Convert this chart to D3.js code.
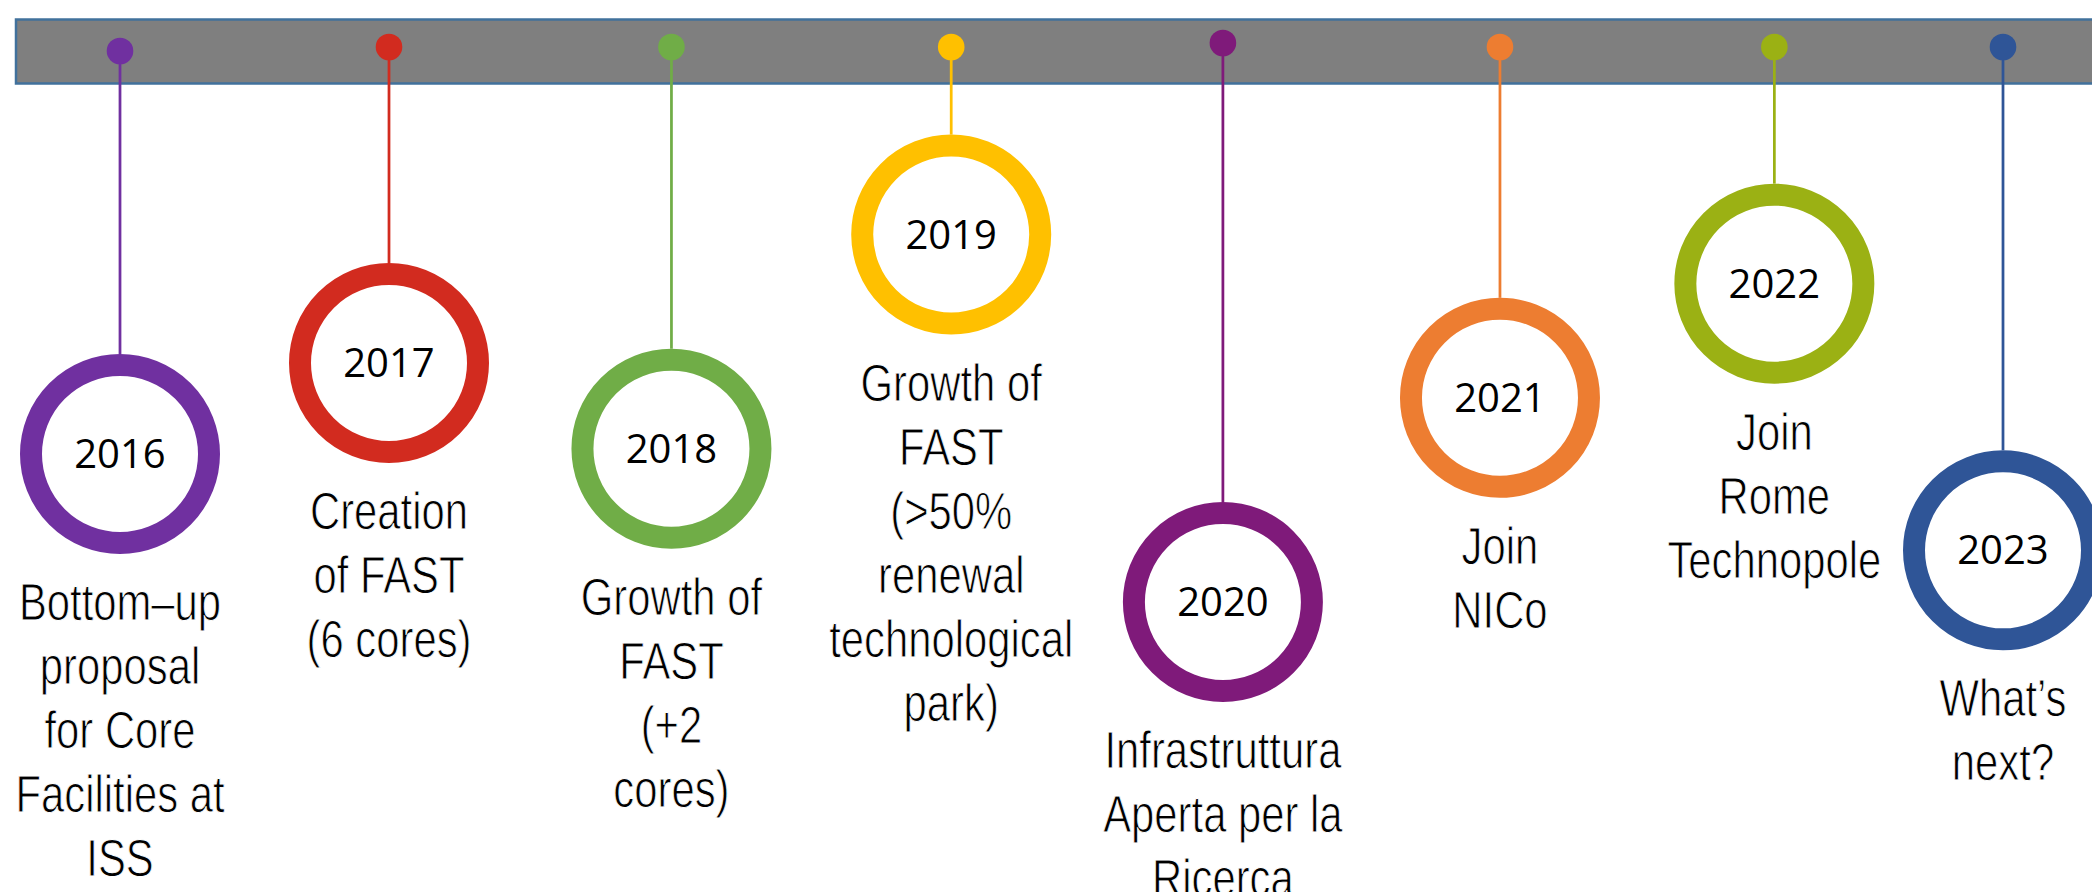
<!DOCTYPE html>
<html>
<head>
<meta charset="utf-8">
<script src="https://cdn.jsdelivr.net/npm/d3@7"></script>
<style>
  html, body { margin: 0; padding: 0; background: #ffffff; }
  svg { display: block; }
</style>
</head>
<body>
<svg id="chart" width="2092" height="892"></svg>
<script>
// ---- data ----
const years = ["2016", "2017", "2018", "2019", "2020", "2021", "2022", "2023"];
// position of each milestone along the timeline (in year-slot units)
const slots = [0, 1.0, 2.05, 3.09, 4.10, 5.13, 6.15, 7.0];
// how far each milestone hangs below the top (0-100 units of page height)
const depths = [50.9, 40.7, 50.3, 26.3, 67.5, 44.6, 31.8, 61.7];
// pin heights on the bar (same units)
const pinDepths = [5.72, 5.27, 5.27, 5.27, 4.82, 5.27, 5.27, 5.27];
const colors = ["#7030A0", "#D22B1F", "#70AD47", "#FFC000", "#7F1A7A", "#ED7D31", "#9BB114", "#2F5597"];
const descriptions = [
  ["Bottom–up", "proposal", "for Core", "Facilities at", "ISS"],
  ["Creation", "of FAST", "(6 cores)"],
  ["Growth of", "FAST", "(+2", "cores)"],
  ["Growth of", "FAST", "(>50%", "renewal", "technological", "park)"],
  ["Infrastruttura", "Aperta per la", "Ricerca"],
  ["Join", "NICo"],
  ["Join", "Rome", "Technopole"],
  ["What’s", "next?"]
];

// ---- layout ----
const W = 2092, H = 892;
const svg = d3.select("#chart");
const x = d3.scaleLinear().domain([0, 7]).range([120, 2003]);
const y = d3.scaleLinear().domain([0, 100]).range([0, H]);

const ringR = 89, ringW = 22, pinR = 13.3;
const lineH = 64, labelGap = 166;

const items = years.map((yr, i) => ({
  year: yr, cx: x(slots[i]), cy: y(depths[i]), py: y(pinDepths[i]),
  color: colors[i], lines: descriptions[i]
}));

// timeline bar
svg.append("rect")
  .attr("x", 16).attr("y", 19.5)
  .attr("width", W + 20).attr("height", 64)
  .attr("fill", "#7F7F7F")
  .attr("stroke", "#41719C").attr("stroke-width", 2.5);

const g = svg.selectAll("g.item").data(items).join("g").attr("class", "item");

g.append("line")
  .attr("x1", d => d.cx).attr("x2", d => d.cx)
  .attr("y1", d => d.py).attr("y2", d => d.cy - ringR - ringW / 2)
  .attr("stroke", d => d.color).attr("stroke-width", 2.75);

g.append("circle")
  .attr("cx", d => d.cx).attr("cy", d => d.py).attr("r", pinR)
  .attr("fill", d => d.color);

g.append("circle")
  .attr("cx", d => d.cx).attr("cy", d => d.cy).attr("r", ringR)
  .attr("fill", "#ffffff")
  .attr("stroke", d => d.color).attr("stroke-width", ringW);

g.append("text")
  .attr("x", d => d.cx).attr("y", d => d.cy + 14)
  .attr("text-anchor", "middle")
  .attr("font-family", "'Open Sans', Lato, sans-serif")
  .attr("font-weight", 400)
  .attr("font-size", 40)
  .attr("fill", "#000")
  .text(d => d.year);

// detect narrow font availability
function narrowAvailable() {
  const t1 = svg.append("text").attr("font-family", "'Liberation Sans Narrow', monospace").attr("font-size", 50).text("Technological mmm");
  const t2 = svg.append("text").attr("font-family", "monospace").attr("font-size", 50).text("Technological mmm");
  const a = t1.node().getComputedTextLength(), b = t2.node().getComputedTextLength();
  t1.remove(); t2.remove();
  return Math.abs(a - b) > 1;
}
const hasNarrow = narrowAvailable();

const labels = g.append("g")
  .attr("transform", d => hasNarrow
    ? `translate(${d.cx},0)`
    : `translate(${d.cx},0) scale(0.82,1)`);

labels.selectAll("text")
  .data(d => d.lines.map((s, j) => ({ s, y: d.cy + labelGap + j * lineH })))
  .join("text")
  .attr("x", 0).attr("y", d => d.y)
  .attr("text-anchor", "middle")
  .attr("font-family", hasNarrow ? "'Liberation Sans Narrow', 'Liberation Sans', sans-serif" : "'Liberation Sans', Arial, sans-serif")
  .attr("font-size", 51)
  .attr("fill", "#000")
  .attr("stroke", "#fff")
  .attr("stroke-width", 0.9)
  .style("paint-order", "normal")
  .text(d => d.s);
</script>
</body>
</html>
